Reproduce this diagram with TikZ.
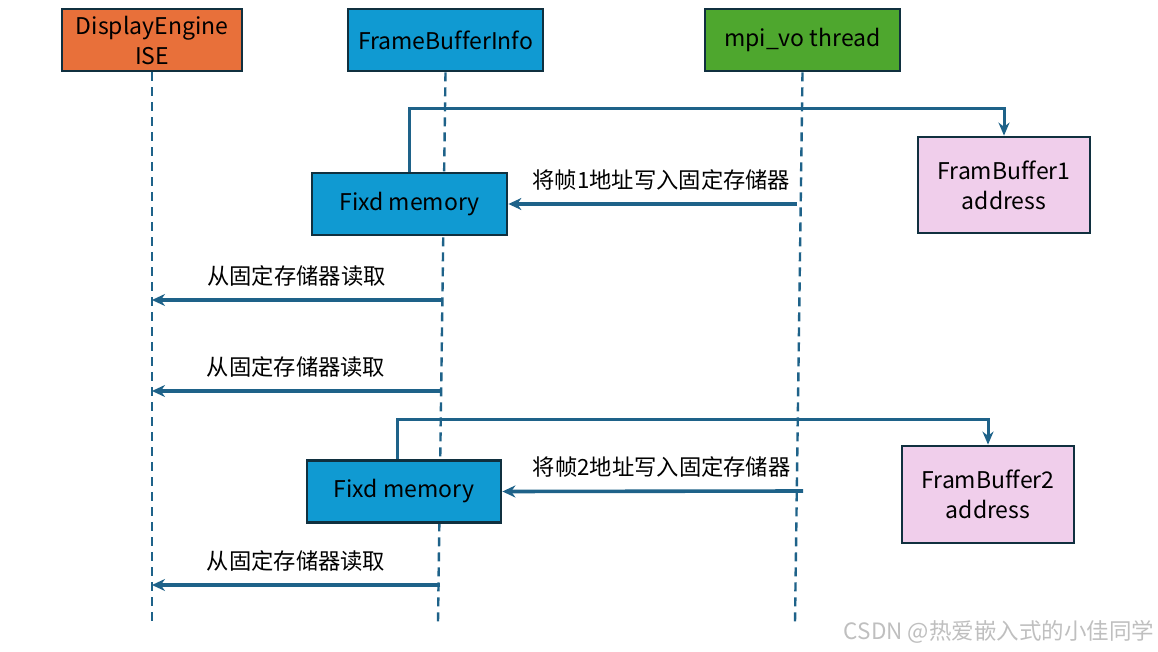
\documentclass[tikz,border=0pt]{standalone}
\usepackage{fontspec}
\setmainfont{Noto Sans CJK SC}[Ligatures=NoCommon]
\usetikzlibrary{arrows.meta}

\definecolor{deorange}{HTML}{E8703A}
\definecolor{fbblue}{HTML}{109AD2}
\definecolor{vogreen}{HTML}{4EA72E}
\definecolor{addrpink}{HTML}{F0CEEB}
\definecolor{edgedark}{HTML}{10303F}
\definecolor{linkblue}{HTML}{1E6289}

\tikzset{
  actor/.style={draw=edgedark,line width=2.8pt,minimum width=#1,minimum height=62pt,
    inner sep=0pt,align=center,font=\fontsize{23}{30}\selectfont},
  lifeline/.style={draw=linkblue,line width=2.4pt,dash pattern=on 9pt off 6pt},
  msg/.style={draw=linkblue,line width=3.6pt,-{Stealth[length=13pt,width=12pt]}},
  link/.style={draw=linkblue,line width=3pt,-{Stealth[length=13pt,width=11pt]}},
  msglabel/.style={font=\fontsize{22.3}{26}\selectfont,inner sep=0pt}
}

\begin{document}
\begin{tikzpicture}[x=1pt,y=-1pt]
  \useasboundingbox (0,0) rectangle (1158,652);

    % --------------------------------------------------------- %
    % ------------- actors (top boxes)
    % --------------------------------------------------------- %
    \node[actor=180pt,fill=deorange] (de) at (152,40) {DisplayEngine\\ISE};
    \node[actor=195pt,fill=fbblue] (fbi) at (445.5,40) {FrameBufferInfo};
    \node[actor=195pt,fill=vogreen] (vo) at (802.5,40) {mpi\_vo thread};

    % --------------------------------------------------------- %
    % ------------- lifelines
    % --------------------------------------------------------- %
    \coordinate (deend) at (152,622);
    \coordinate (fbiend) at (438,622);
    \coordinate (voend) at (795,622);
    \draw[lifeline] (de.south) -- (deend);
    \draw[lifeline] (fbi.south) -- (fbiend);
    \draw[lifeline] (vo.south) -- (voend);

    % --------------------------------------------------------- %
    % ------------- frame 1
    % --------------------------------------------------------- %
    \node[actor=195pt,fill=fbblue] (fix1) at (409.5,204) {Fixd memory};
    \node[actor=172pt,minimum height=96pt,fill=addrpink] (fb1) at (1004,185) {FramBuffer1\\address};
    \draw[link] (fix1.north) -- ++(0,-63) -| (fb1.north);

    \coordinate (w1) at (797,204);
    \draw[msg] (w1) -- node[msglabel,above=12pt,pos=0.47] {将帧1地址写入固定存储器} (fix1.east);

    \coordinate (r1) at (441,300);
    \draw[msg] (r1) -- node[msglabel,above=12pt] {从固定存储器读取} (r1 -| de.south);
    \coordinate (r2) at (440,391);
    \draw[msg] (r2) -- node[msglabel,above=12pt] {从固定存储器读取} (r2 -| de.south);

    % --------------------------------------------------------- %
    % ------------- frame 2
    % --------------------------------------------------------- %
    \node[actor=194pt,fill=fbblue] (fix2) at (404,491.5) {Fixd memory};
    \node[actor=172pt,minimum height=97pt,fill=addrpink] (fb2) at (988,494.5) {FramBuffer2\\address};
    \draw[link] ([xshift=-7pt]fix2.north) -- ++(0,-40) -| (fb2.north);

    \coordinate (w2) at (803,491);
    \draw[msg] (w2) -- node[msglabel,above=12pt,pos=0.47] {将帧2地址写入固定存储器} (fix2.east);

    \coordinate (r3) at (440,585);
    \draw[msg] (r3) -- node[msglabel,above=12pt] {从固定存储器读取} (r3 -| de.south);

    % watermark
    \node[font=\fontsize{22.5}{26}\selectfont,text=black!25] (mark) at (999,632) {CSDN @热爱嵌入式的小佳同学};

  \end{tikzpicture}
\end{document}
